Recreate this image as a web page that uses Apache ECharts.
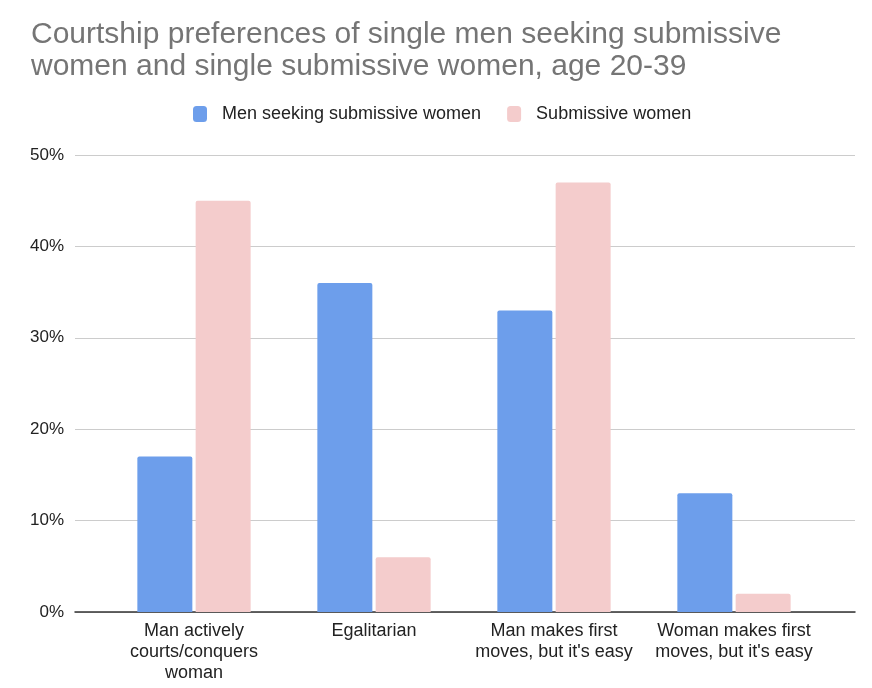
<!DOCTYPE html>
<html>
<head>
<meta charset="utf-8">
<script src="https://cdn.jsdelivr.net/npm/echarts@6/dist/echarts.min.js"></script>
<style>
  html, body { margin: 0; padding: 0; background: #fff; }
  #chart { width: 872px; height: 688px; }
</style>
</head>
<body>
<div id="chart"></div>
<script>
const categories = [
  "Man actively\ncourts/conquers\nwoman",
  "Egalitarian",
  "Man makes first\nmoves, but it's easy",
  "Woman makes first\nmoves, but it's easy",
];
const menSeeking = [17, 36, 33, 13];
const submissiveWomen = [45, 6, 47, 2];
const yTicks = [0, 10, 20, 30, 40, 50];

const COLORS = {
  men: "#6d9eeb",
  women: "#f4cccc",
};
const FONT = "'Liberation Sans', Arial, sans-serif";

const chart = echarts.init(document.getElementById("chart"));

// grid 0 carries the full-width gridlines and axis line,
// grid 1 is narrower and holds the bars and category labels
const option = {
  animation: false,
  textStyle: { fontFamily: FONT },
  title: {
    text: "Courtship preferences of single men seeking submissive\nwomen and single submissive women, age 20-39",
    left: 26,
    top: 14,
    textStyle: {
      color: "#757575",
      fontSize: 30,
      fontWeight: "normal",
      lineHeight: 32,
      fontFamily: FONT,
    },
  },
  legend: {
    top: 100,
    left: 188,
    itemWidth: 14,
    itemHeight: 16,
    itemGap: 26,
    textStyle: { color: "#222", fontSize: 18, padding: [0, 0, 0, 10] },
    data: ["Men seeking submissive women", "Submissive women"],
  },
  grid: [
    { left: 75, right: 17, top: 155, bottom: 76 },
    { left: 104, right: 48, top: 155, bottom: 76 },
  ],
  xAxis: [
    {
      type: "category",
      gridIndex: 0,
      data: categories,
      axisTick: { show: false },
      axisLabel: { show: false },
      axisLine: { lineStyle: { color: "#333", width: 1.5 } },
    },
    {
      type: "category",
      gridIndex: 1,
      data: categories,
      axisTick: { show: false },
      axisLine: { show: false },
      axisLabel: {
        color: "#222",
        fontSize: 18,
        lineHeight: 21,
        margin: 9,
        interval: 0,
      },
    },
  ],
  yAxis: [
    {
      type: "value",
      gridIndex: 0,
      min: yTicks[0],
      max: yTicks[yTicks.length - 1],
      interval: 10,
      axisLabel: {
        color: "#222",
        fontSize: 17,
        margin: 11,
        formatter: "{value}%",
      },
      splitLine: { lineStyle: { color: "#cccccc" } },
    },
    {
      type: "value",
      gridIndex: 1,
      min: yTicks[0],
      max: yTicks[yTicks.length - 1],
      interval: 10,
      axisLabel: { show: false },
      splitLine: { show: false },
    },
  ],
  series: [
    {
      name: "Men seeking submissive women",
      type: "bar",
      xAxisIndex: 1,
      yAxisIndex: 1,
      data: menSeeking,
      barWidth: 55,
      barGap: "6%",
      itemStyle: { color: COLORS.men, borderRadius: [2, 2, 0, 0] },
    },
    {
      name: "Submissive women",
      type: "bar",
      xAxisIndex: 1,
      yAxisIndex: 1,
      data: submissiveWomen,
      barWidth: 55,
      itemStyle: { color: COLORS.women, borderRadius: [2, 2, 0, 0] },
    },
  ],
};

chart.setOption(option);
</script>
</body>
</html>
